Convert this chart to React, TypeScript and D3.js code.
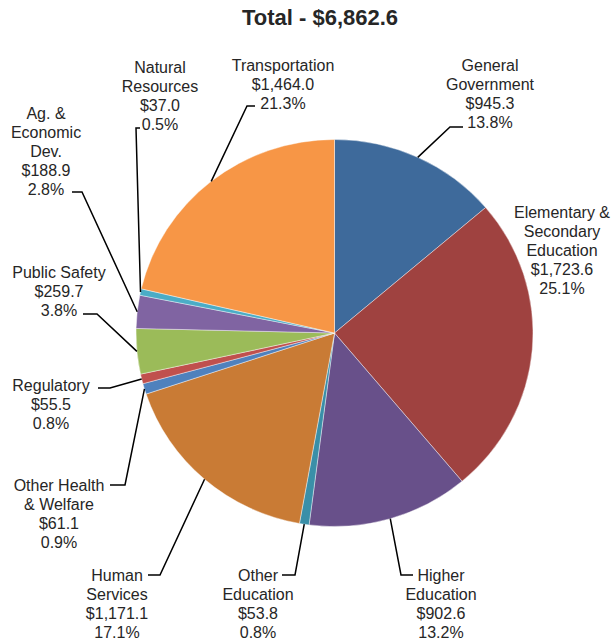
import React from "react";
import * as d3 from "d3";

const categories = [
  "General Government",
  "Elementary & Secondary Education",
  "Higher Education",
  "Other Education",
  "Human Services",
  "Other Health & Welfare",
  "Regulatory",
  "Public Safety",
  "Ag. & Economic Dev.",
  "Natural Resources",
  "Transportation",
];
const values = [945.3, 1723.6, 902.6, 53.8, 1171.1, 61.1, 55.5, 259.7, 188.9, 37.0, 1464.0];
const colors = [
  "#3E6A9B", "#9F4240", "#68508A", "#3A8FA8", "#C97B35", "#4F81BD",
  "#C0504D", "#9BBB59", "#8064A2", "#4BACC6", "#F79646",
];
const labelLines = [
  ["General", "Government"],
  ["Elementary &", "Secondary", "Education"],
  ["Higher", "Education"],
  ["Other", "Education"],
  ["Human", "Services"],
  ["Other Health", "& Welfare"],
  ["Regulatory"],
  ["Public Safety"],
  ["Ag. &", "Economic", "Dev."],
  ["Natural", "Resources"],
  ["Transportation"],
];

// layout: label centre x, first line centre y, leader bend points (from label toward slice)
const labelLayout: { x: number; y: number; leader: [number, number][] }[] = [
  { x: 490, y: 65, leader: [[463, 127], [450, 127]] },
  { x: 562, y: 212, leader: [] },
  { x: 441, y: 575, leader: [[413, 575], [401, 575]] },
  { x: 258, y: 575, leader: [[282, 575], [295, 575]] },
  { x: 117, y: 575, leader: [[148, 575], [160, 575]] },
  { x: 59, y: 485, leader: [[110, 485], [125, 485]] },
  { x: 51, y: 385, leader: [[98, 388], [110, 388]] },
  { x: 59, y: 272, leader: [[83, 314], [97, 314]] },
  { x: 46, y: 113, leader: [[72, 192], [82, 192]] },
  { x: 160, y: 67, leader: [[140, 128], [136, 128]] },
  { x: 283, y: 65, leader: [[255, 106], [247, 106]] },
];

const W = 613;
const H = 640;
const cx = 334.5;
const cy = 333;
const rx = 198.5;
const ry = 193.5;
const yScale = ry / rx;
const lineH = 19;
const font = "'Liberation Sans', Arial, sans-serif";

export default function App() {
  const total = d3.sum(values);
  const pie = d3.pie<number>().sort(null).value((d) => d);
  const arcs = pie(values);
  const arc = d3.arc<d3.PieArcDatum<number>>().innerRadius(0).outerRadius(rx);
  const fmtMoney = (v: number) => "$" + d3.format(",.1f")(v);
  const fmtPct = (v: number) => d3.format(".1f")((v / total) * 100) + "%";

  return (
    <svg
      width={W}
      height={H}
      style={{ position: "absolute", left: 0, top: 0, background: "#fff" }}
      fontFamily={font}
    >
      <text
        x={320}
        y={17}
        dy="0.35em"
        textAnchor="middle"
        fontSize={22}
        fontWeight="bold"
        fill="#262626"
      >
        {"Total - " + fmtMoney(total)}
      </text>
      <g transform={`translate(${cx},${cy}) scale(1,${yScale})`}>
        {arcs.map((a, i) => (
          <path
            key={i}
            d={arc(a) || ""}
            fill={colors[i]}
            stroke="#ffffff"
            strokeWidth={0.6}
            strokeOpacity={0.7}
          />
        ))}
      </g>
      {arcs.map((a, i) => {
        const lay = labelLayout[i];
        if (!lay.leader.length) return null;
        const mid = (a.startAngle + a.endAngle) / 2;
        const ex = cx + rx * Math.sin(mid);
        const ey = cy - ry * Math.cos(mid);
        const pts: [number, number][] = [...lay.leader, [ex, ey]];
        return (
          <path
            key={"l" + i}
            d={d3.line()(pts) || ""}
            fill="none"
            stroke="#000"
            strokeWidth={1.5}
          />
        );
      })}
      {categories.map((c, i) => {
        const lay = labelLayout[i];
        const lines = [...labelLines[i], fmtMoney(values[i]), fmtPct(values[i])];
        return (
          <text
            key={"t" + i}
            textAnchor="middle"
            fontSize={16}
            fill="#262626"
            aria-label={c}
          >
            {lines.map((ln, j) => (
              <tspan key={j} x={lay.x} y={lay.y + j * lineH} dy="0.35em">
                {ln}
              </tspan>
            ))}
          </text>
        );
      })}
    </svg>
  );
}
